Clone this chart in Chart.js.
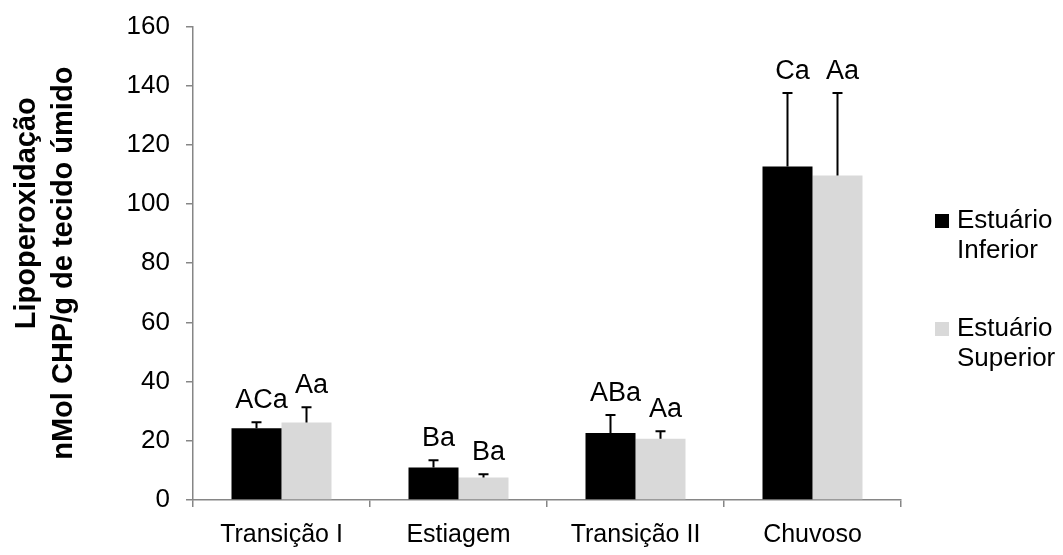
<!DOCTYPE html>
<html>
<head>
<meta charset="utf-8">
<script src="https://cdn.jsdelivr.net/npm/chart.js@4.4.0/dist/chart.umd.min.js"></script>
<style>
  html, body { margin: 0; padding: 0; background: #fff; }
  #wrap { width: 1063px; height: 555px; }
</style>
</head>
<body>
<div id="wrap"><canvas id="myChart" width="1063" height="555"></canvas></div>
<script>
const categories = ['Transição I', 'Estiagem', 'Transição II', 'Chuvoso'];
const seriesNames = [['Estuário', 'Inferior'], ['Estuário', 'Superior']];
const inferior = [24.2, 11.0, 22.6, 112.7];
const superior = [26.2, 7.6, 20.7, 109.6];
const inferiorErr = [2.1, 2.4, 6.1, 24.8];
const superiorErr = [5.1, 1.1, 2.5, 27.9];
const inferiorLetters = ['ACa', 'Ba', 'ABa', 'Ca'];
const superiorLetters = ['Aa', 'Ba', 'Aa', 'Aa'];
const yTitle = ['Lipoperoxidação', 'nMol CHP/g de tecido úmido'];

const colors = ['#000000', '#d9d9d9'];
const errs = [inferiorErr, superiorErr];
const letters = [inferiorLetters, superiorLetters];
const font = 'Liberation Sans, Arial, sans-serif';

// error bars, letters, y title and legend
const extras = {
    id: 'extras',
    afterDatasetsDraw(chart) {
        const ctx = chart.ctx;
        const y = chart.scales.y;
        ctx.save();
        chart.data.datasets.forEach((ds, i) => {
            chart.getDatasetMeta(i).data.forEach((bar, j) => {
                const top = y.getPixelForValue(ds.data[j] + errs[i][j]);
                ctx.strokeStyle = '#000';
                ctx.lineWidth = 2;
                ctx.beginPath();
                ctx.moveTo(bar.x, bar.y);
                ctx.lineTo(bar.x, top);
                ctx.moveTo(bar.x - 5, top);
                ctx.lineTo(bar.x + 5, top);
                ctx.stroke();
                ctx.fillStyle = '#000';
                ctx.font = '27px ' + font;
                ctx.textAlign = 'center';
                ctx.textBaseline = 'alphabetic';
                ctx.fillText(letters[i][j], bar.x + 5, top - 14);
            });
        });

        // y title (first line sits a bit higher, as in the original)
        ctx.font = 'bold 29px ' + font;
        ctx.textAlign = 'center';
        ctx.textBaseline = 'middle';
        const cy = (chart.chartArea.top + chart.chartArea.bottom) / 2;
        [[27, cy - 50], [64, cy]].forEach(([x, yy], k) => {
            ctx.save();
            ctx.translate(x, yy);
            ctx.rotate(-Math.PI / 2);
            ctx.fillText(yTitle[k], 0, 0);
            ctx.restore();
        });

        // legend
        ctx.font = '26px ' + font;
        ctx.textAlign = 'left';
        ctx.textBaseline = 'middle';
        [221, 329].forEach((ly, k) => {
            ctx.fillStyle = colors[k];
            ctx.fillRect(935, ly - 7, 14, 14);
            ctx.fillStyle = '#000';
            ctx.fillText(seriesNames[k][0], 957, ly);
            ctx.fillText(seriesNames[k][1], 957, ly + 30);
        });
        ctx.restore();
    }
};

const ctx = document.getElementById('myChart').getContext('2d');
const myChart = new Chart(ctx, {
    type: 'bar',
    data: {
        labels: categories,
        datasets: [{
            label: 'Estuário Inferior',
            data: inferior,
            backgroundColor: colors[0],
            barPercentage: 1,
            categoryPercentage: 0.565
        }, {
            label: 'Estuário Superior',
            data: superior,
            backgroundColor: colors[1],
            barPercentage: 1,
            categoryPercentage: 0.565
        }]
    },
    options: {
        responsive: false,
        animation: false,
        layout: {
            padding: { left: 0, right: 162, top: 24, bottom: 0 }
        },
        scales: {
            x: {
                grid: { display: true, drawOnChartArea: false, color: '#868686', lineWidth: 1.5, tickLength: 7, offset: true },
                border: { color: '#868686', width: 1.5 },
                ticks: { color: '#000', font: { family: font, size: 25 }, padding: 13, maxRotation: 0 },
                afterFit: s => { s.height = 55; }
            },
            y: {
                min: 0,
                max: 160,
                ticks: { stepSize: 20, color: '#000', font: { family: font, size: 26, lineHeight: 0.8 }, padding: 16 },
                grid: { display: true, drawOnChartArea: false, color: '#868686', lineWidth: 1.5, tickLength: 7 },
                border: { color: '#868686', width: 1.5 },
                afterFit: s => { s.width = 193; }
            }
        },
        plugins: {
            legend: false,
            tooltip: { enabled: false }
        }
    },
    plugins: [extras]
});
</script>
</body>
</html>
